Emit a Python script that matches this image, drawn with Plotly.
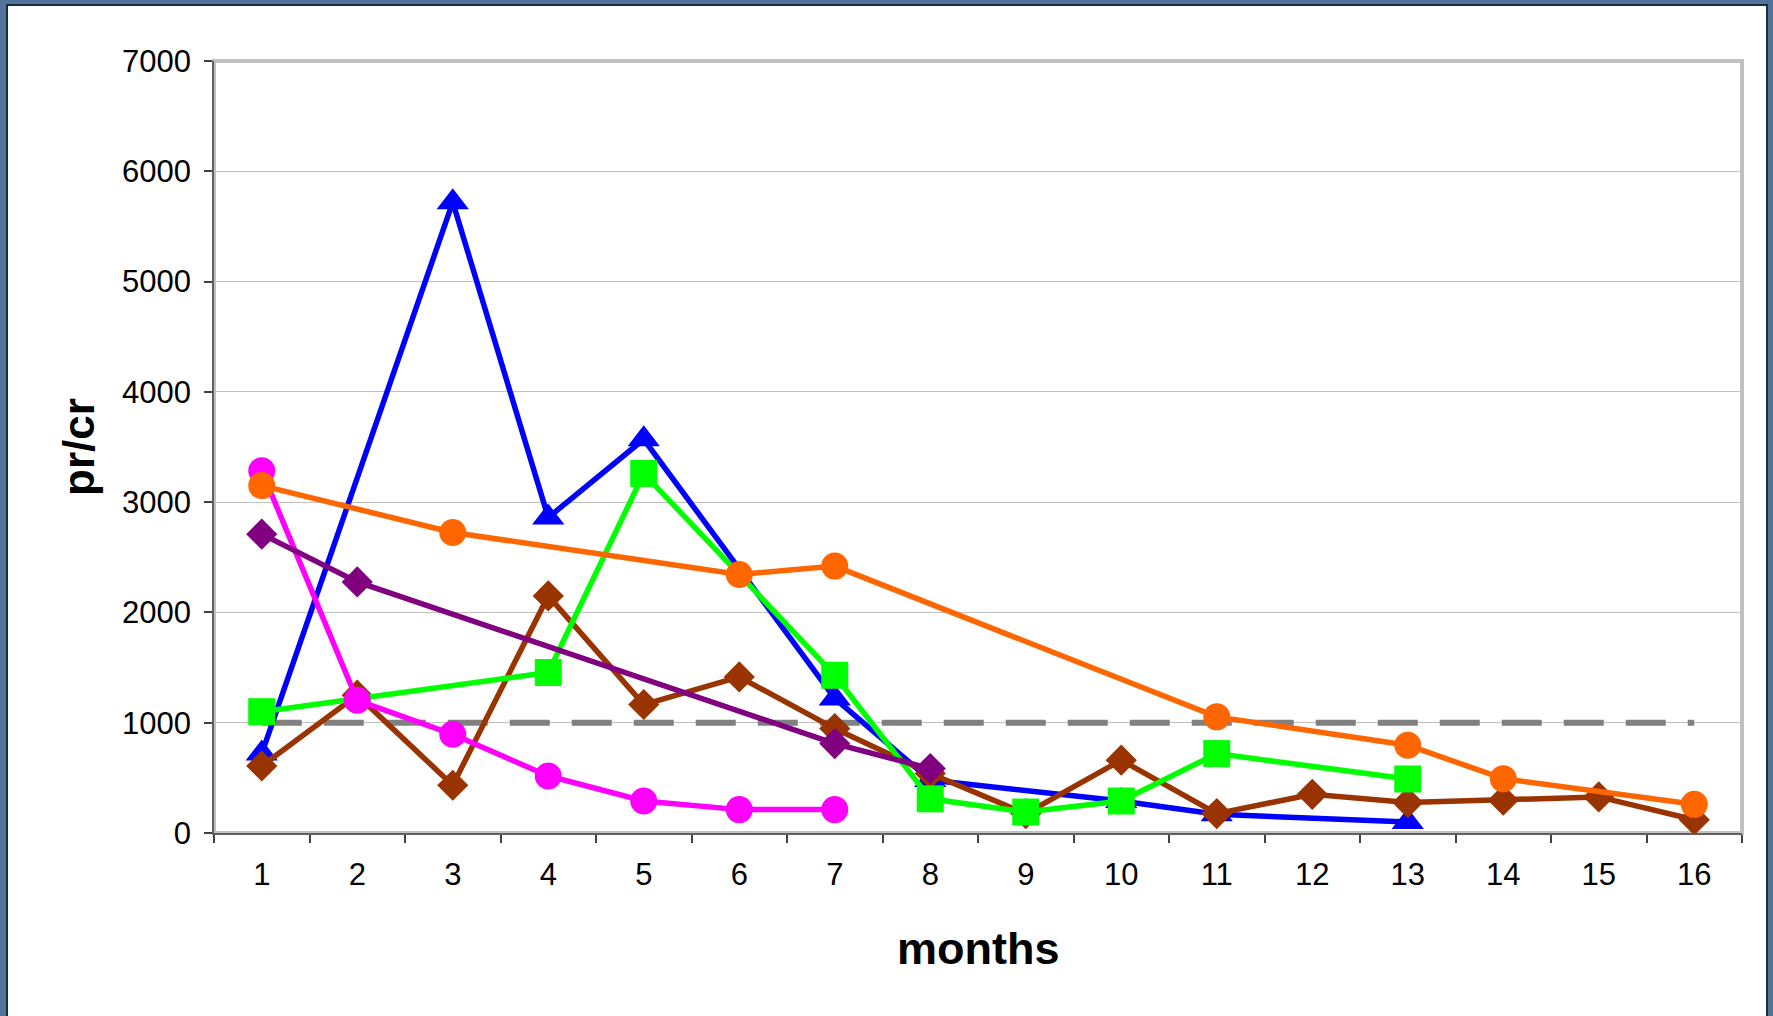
import plotly.graph_objects as go

# ---- data ----
months = [str(m) for m in range(1, 17)]

blue_tri = [720, None, 5720, 2860, 3570, None, 1220, 480, None, 290, 170, None, 100, None, None, None]
brown_dia = [608, 1250, 433, 2150, 1165, 1415, 947, 540, 175, 660, 176, 351, 276, 297, 327, 120]
green_sq = [1100, None, None, 1455, 3260, None, 1430, 310, 190, 290, 720, None, 490, None, None, None]
magenta_ci = [3285, 1204, 895, 517, 290, 212, 212, None, None, None, None, None, None, None, None, None]
purple_dia = [2710, 2277, None, None, None, None, 811, 584, None, None, None, None, None, None, None, None]
orange_ci = [3150, None, 2725, None, None, 2344, 2420, None, None, None, 1053, None, 796, 493, None, 260]
threshold = [1000] * 16

y_ticks = [0, 1000, 2000, 3000, 4000, 5000, 6000, 7000]

FONT = "Liberation Sans, Arial, sans-serif"
LW = 5.5

fig = go.Figure()

fig.add_trace(go.Scatter(x=months, y=threshold, mode="lines",
                         line=dict(color="#808080", width=6, dash="40px,22px"),
                         showlegend=False, hoverinfo="skip"))

series = [
    (blue_tri, "#0000FF", "triangle-up", 28),
    (brown_dia, "#993300", "diamond", 24),
    (green_sq, "#00FF00", "square", 27),
    (magenta_ci, "#FF00FF", "circle", 27),
    (purple_dia, "#800080", "diamond", 24),
    (orange_ci, "#FF6600", "circle", 27),
]
for vals, col, sym, sz in series:
    fig.add_trace(go.Scatter(x=months, y=vals, mode="lines+markers", connectgaps=True,
                             line=dict(color=col, width=LW),
                             marker=dict(color=col, symbol=sym, size=sz, line=dict(width=0)),
                             showlegend=False))

W, H = 1773, 1016
L, R, T, B = 214, 31, 61, 183
pw, ph = W - L - R, H - T - B

def px(x):
    return (x - L) / pw

def py(y):
    return (H - B - y) / ph

shapes = [
    # white slide panel
    dict(type="rect", xref="paper", yref="paper", x0=px(7), x1=px(1767), y0=py(1030), y1=py(5),
         fillcolor="white", line=dict(color="#1c2b3c", width=2), layer="below"),
    # plot area border
    dict(type="rect", xref="paper", yref="paper", x0=0, x1=1, y0=0, y1=1,
         fillcolor="rgba(0,0,0,0)", line=dict(color="#c0c0c0", width=4), layer="below"),
]

fig.update_layout(
    width=W, height=H,
    margin=dict(l=L, r=R, t=T, b=B, pad=0),
    paper_bgcolor="#52749c",
    plot_bgcolor="rgba(0,0,0,0)",
    font=dict(family=FONT, color="black", size=31),
    shapes=shapes,
    xaxis=dict(type="category", categoryorder="array", categoryarray=months,
               range=[-0.5, 15.5], tickson="boundaries", ticks="outside", ticklen=8,
               tickwidth=1.5, tickcolor="#404040", showline=True, linecolor="#606060",
               linewidth=1.5, showgrid=False, zeroline=False,
               tickfont=dict(size=31, family=FONT), ticklabelstandoff=13),
    yaxis=dict(range=[0, 7000], tickvals=y_ticks, ticks="outside", ticklen=8,
               tickwidth=1.5, tickcolor="#404040", showline=True, linecolor="#606060",
               linewidth=1.5, showgrid=True, gridcolor="#c0c0c0", gridwidth=1.2,
               zeroline=False, tickfont=dict(size=31, family=FONT), ticklabelstandoff=7),
    annotations=[
        dict(text="<b>months</b>", xref="paper", yref="paper", x=0.5, y=py(948),
             xanchor="center", yanchor="middle", showarrow=False,
             font=dict(size=45, family=FONT, color="black")),
        dict(text="<b>pr/cr</b>", xref="paper", yref="paper", x=px(78), y=0.5,
             xanchor="center", yanchor="middle", showarrow=False, textangle=-90,
             font=dict(size=44, family=FONT, color="black")),
    ],
)

fig.write_html("out.html",
               config={"displayModeBar": False},
               post_script="document.body.style.margin='0px';document.body.style.overflow='hidden';")
